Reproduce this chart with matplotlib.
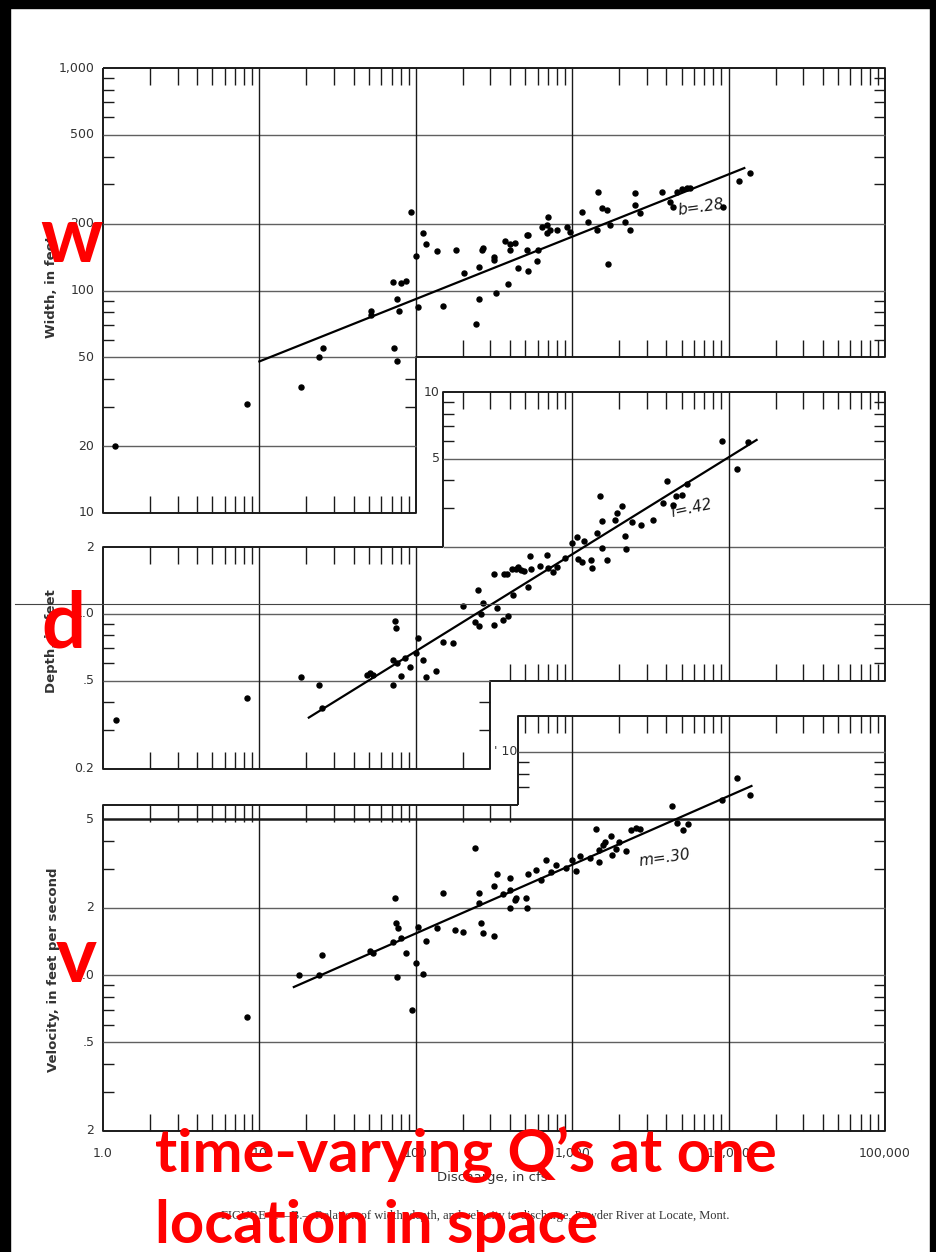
import numpy as np
import matplotlib.pyplot as plt
from matplotlib.patches import Rectangle
from matplotlib.lines import Line2D

# discharge (cfs) vs width (ft)
q_width = [1.2, 8.3, 18.4, 24, 25.5, 52, 52, 72, 81, 86, 75.6, 78, 73, 75.6, 93, 101, 111, 117,
           104, 136, 149, 180, 203, 242, 253, 253, 264, 267, 315, 315, 325, 371, 390, 401, 401,
           429, 449, 512, 512, 520, 593, 600, 638, 690, 697, 520, 687, 720, 796, 922, 964, 1150,
           1257, 1435, 1455, 1540, 1660, 1740, 1690, 2165, 2330, 2507, 2507, 2700, 3730, 4200,
           4400, 4650, 5000, 5400, 5650, 9160, 11600, 13800]
width = [20, 31, 37, 50, 55, 78, 81, 109, 108, 110, 92, 81, 55, 48, 225, 143, 181, 162,
         84, 150, 85, 152, 120, 71, 128, 92, 152, 155, 141, 137, 97, 167, 107, 162, 152,
         163, 126, 177, 152, 122, 136, 152, 193, 181, 214, 178, 197, 187, 187, 193, 183, 225,
         203, 187, 277, 235, 230, 197, 131, 203, 187, 274, 243, 223, 277, 250,
         237, 277, 285, 290, 290, 237, 312, 337]

# discharge vs depth (ft)
q_depth = [1.21, 8.3, 18.4, 24, 25, 49, 51, 53, 71, 73.5, 75, 72, 75.6, 81, 85, 91.5, 101, 104,
           111, 117, 134, 149, 172, 200, 238, 250, 253, 260, 267, 315, 315, 330, 360, 385, 390,
           416, 435, 495, 520, 366, 410, 450, 470, 535, 545, 620, 687, 697, 750, 800, 896, 1000,
           1075, 1085, 1150, 1190, 1310, 1330, 1435, 1500, 1560, 1560, 1660, 1870, 1920, 2070,
           2180, 2220, 2400, 2740, 3270, 3790, 4020, 4400, 4600, 5000, 5400, 9020, 11250, 13400]
depth = [0.334, 0.419, 0.52, 0.48, 0.378, 0.53, 0.54, 0.53, 0.48, 0.93, 0.865, 0.62, 0.60, 0.527,
         0.634, 0.578, 0.668, 0.78, 0.62, 0.52, 0.555, 0.75, 0.74, 1.09, 0.92, 1.28, 0.88, 1.0,
         1.12, 1.51, 0.89, 1.06, 0.94, 1.51, 0.98, 1.22, 1.59, 1.56, 1.32, 1.51, 1.59, 1.62, 1.57,
         1.82, 1.59, 1.64, 1.84, 1.61, 1.54, 1.63, 1.79, 2.08, 2.22, 1.77, 1.72, 2.13, 1.75, 1.61,
         2.31, 3.39, 2.62, 1.98, 1.75, 2.65, 2.85, 3.06, 2.24, 1.96, 2.6, 2.52, 2.65, 3.15, 3.98,
         3.1, 3.41, 3.44, 3.86, 6.03, 4.51, 5.96]

# discharge vs velocity (ft/s)
q_vel = [8.3, 17.9, 24, 25, 50.8, 53, 73.5, 75, 77, 72, 81, 87, 75.6, 94, 101, 104, 111, 117, 136,
         149, 177, 200, 238, 253, 253, 260, 267, 315, 315, 330, 362, 398, 401, 401, 429, 440, 505,
         512, 520, 585, 629, 677, 729, 785, 908, 993, 1052, 1116, 1294, 1414, 1477, 1566, 1614,
         1762, 1897, 1997, 2198, 2366, 2548, 2720, 1493, 1800, 4330, 4700, 5470, 5100, 9020,
         11400, 13800]
velocity = [0.648, 1.0, 1.0, 1.23, 1.28, 1.25, 2.21, 1.71, 1.62, 1.41, 1.47, 1.25, 0.98, 0.70, 1.13,
            1.64, 1.01, 1.42, 1.62, 2.33, 1.59, 1.56, 3.71, 2.33, 2.1, 1.71, 1.54, 1.50, 2.5, 2.84,
            2.31, 2.72, 2.4, 2.0, 2.17, 2.21, 2.21, 2.0, 2.84, 2.96, 2.67, 3.28, 2.9, 3.11, 3.02,
            3.28, 2.93, 3.42, 3.35, 4.52, 3.64, 3.83, 3.95, 4.2, 3.67, 3.95, 3.6, 4.47, 4.56, 4.52,
            3.21, 3.45, 5.73, 4.8, 4.76, 4.47, 6.1, 7.64, 6.42]

# fitted lines (end points)
fit_q_w, fit_w = [10, 12600], [48, 355]
fit_q_d, fit_d = [20.7, 15100], [0.341, 6.08]
fit_q_v, fit_v = [16.6, 14000], [0.884, 7.04]

x_labels = ['1.0', '10', '100', '1,000', '10,000', '100,000']

W, H = 937, 1252
fig = plt.figure(figsize=(W / 100, H / 100), dpi=100)
fig.patch.set_facecolor('white')

INK = '#1a1a1a'
GRID = '#606060'
LBL = '#333333'
TICKFONT = ['Liberation Sans Narrow', 'DejaVu Sans']


def make_ax(ylo, yhi, py_lo, py_hi):
    ax = fig.add_axes([103 / W, 1 - py_lo / H, 782 / W, (py_lo - py_hi) / H])
    ax.set_xscale('log')
    ax.set_yscale('log')
    ax.set_xlim(1, 1e5)
    ax.set_ylim(ylo, yhi)
    ax.axis('off')
    ax.ppd_y = (py_lo - py_hi) / np.log10(yhi / ylo)
    return ax


def line(ax, xs, ys, lw=1.4, c=INK):
    ax.plot(xs, ys, color=c, lw=lw, clip_on=False, solid_capstyle='butt')


def minor_vals(lo, hi):
    out = []
    for k in range(-2, 6):
        for m in range(2, 10):
            v = m * 10.0 ** k
            if lo * 1.0001 < v < hi * 0.9999:
                out.append(v)
    return out


def xticks(ax, x0, x1, y, up=True, length=17):
    f = 10 ** (length / ax.ppd_y)
    for x in minor_vals(x0, x1):
        line(ax, [x, x], [y, y * f if up else y / f], lw=1.0)


def yticks(ax, vals, x, inward_right=True, length=11):
    f = 10 ** (length / 156.4)
    for v in vals:
        line(ax, [x, x * f if inward_right else x / f], [v, v], lw=1.0)


def ylabels(ax, vals, texts, x):
    for v, t in zip(vals, texts):
        ax.text(x, v, t, ha='right', va='center', fontsize=9, color=LBL, family=TICKFONT,
                clip_on=False)


# ---------------- width panel ----------------
axw = make_ax(10, 1000, 513, 68)
line(axw, [1, 1e5, 1e5, 100, 100, 1, 1], [1000, 1000, 50, 50, 10, 10, 1000])
for y in [500, 200, 100]:
    line(axw, [1, 1e5], [y, y], lw=1.0, c=GRID)
line(axw, [1, 100], [50, 50], lw=1.0, c=GRID)
line(axw, [1, 100], [20, 20], lw=1.0, c=GRID)
line(axw, [10, 10], [10, 1000], lw=1.0)
line(axw, [100, 100], [50, 1000], lw=1.0)
for x in [1000, 10000]:
    line(axw, [x, x], [50, 1000], lw=1.0)
xticks(axw, 1, 1e5, 1000, up=False)
xticks(axw, 1, 100, 10, up=True)
xticks(axw, 100, 1e5, 50, up=True)
yticks(axw, [900, 800, 700, 600, 400, 300, 90, 80, 70, 60, 40, 30], 1, True)
yticks(axw, [900, 800, 700, 600, 400, 300, 90, 80, 70, 60], 1e5, False)
yticks(axw, [40, 30], 100, False)
ylabels(axw, [1000, 500, 200, 100, 50, 20, 10], ['1,000', '500', '200', '100', '50', '20', '10'], 0.88)
axw.scatter(q_width, width, s=13, color='black', zorder=5, clip_on=False)
axw.plot(fit_q_w, fit_w, color='black', lw=1.6)
axw.text(6700, 237, 'b=.28', fontsize=11, style='italic', rotation=8, ha='center', va='center',
         family=['DejaVu Sans'], color=INK)

# ---------------- depth panel ----------------
axd = make_ax(0.2, 10, 769, 392)
line(axd, [150, 150, 1e5, 1e5, 300, 300, 1, 1, 150],
     [2, 10, 10, 0.5, 0.5, 0.2, 0.2, 2, 2])
line(axd, [150, 1e5], [5, 5], lw=1.0, c=GRID)
line(axd, [150, 1e5], [2, 2], lw=1.0, c=GRID)
line(axd, [1, 1e5], [1, 1], lw=1.0, c=GRID)
line(axd, [1, 300], [0.5, 0.5], lw=1.0, c=GRID)
for x in [10, 100]:
    line(axd, [x, x], [0.2, 2], lw=1.0)
for x in [1000, 10000]:
    line(axd, [x, x], [0.5, 10], lw=1.0)
xticks(axd, 150, 1e5, 10, up=False)
xticks(axd, 1, 150, 2, up=False)
xticks(axd, 1, 300, 0.2, up=True)
xticks(axd, 300, 1e5, 0.5, up=True)
yticks(axd, [0.9, 0.8, 0.7, 0.6, 0.4, 0.3], 1, True)
yticks(axd, [9, 8, 7, 6, 4, 3], 150, True)
yticks(axd, [9, 8, 7, 6, 4, 3, 0.9, 0.8, 0.7, 0.6], 1e5, False)
yticks(axd, [0.4, 0.3], 300, False)
ylabels(axd, [2, 1, 0.5, 0.2], ['2', '1.0', '.5', '0.2'], 0.88)
ylabels(axd, [10, 5], ['10', '5'], 142)
axd.scatter(q_depth, depth, s=13, color='black', zorder=5, clip_on=False)
axd.plot(fit_q_d, fit_d, color='black', lw=1.6)
axd.text(5800, 3.0, 'f=.42', fontsize=11, style='italic', rotation=12, ha='center', va='center',
         family=['DejaVu Sans'], color=INK)

# ---------------- velocity panel ----------------
VTOP = 14.5
VLEFT = 5.78
axv = make_ax(0.2, VTOP, 1131, 716)
line(axv, [450, 450, 1e5, 1e5, 1, 1, 450], [VLEFT, VTOP, VTOP, 0.2, 0.2, VLEFT, VLEFT])
line(axv, [450, 1e5], [10, 10], lw=1.0, c=GRID)
line(axv, [1, 1e5], [5, 5], lw=1.8, c=INK)
for y in [2, 1, 0.5]:
    line(axv, [1, 1e5], [y, y], lw=1.0, c=GRID)
for x in [10, 100]:
    line(axv, [x, x], [0.2, VLEFT], lw=1.0)
for x in [1000, 10000]:
    line(axv, [x, x], [0.2, VTOP], lw=1.0)
xticks(axv, 450, 1e5, VTOP, up=False)
xticks(axv, 1, 450, VLEFT, up=False)
xticks(axv, 1, 1e5, 0.2, up=True)
yticks(axv, [4, 3, 0.9, 0.8, 0.7, 0.6, 0.4, 0.3], 1, True)
yticks(axv, [9, 8, 7], 450, True)
yticks(axv, [9, 8, 7, 6, 4, 3, 0.9, 0.8, 0.7, 0.6, 0.4, 0.3], 1e5, False)
ylabels(axv, [5, 2, 1, 0.5, 0.2], ['5', '2', '1.0', '.5', '2'], 0.88)
axv.text(445, 10, "' 10", ha='right', va='center', fontsize=9, color=LBL, family=TICKFONT)
axv.scatter(q_vel, velocity, s=13, color='black', zorder=5, clip_on=False)
axv.plot(fit_q_v, fit_v, color='black', lw=1.6)
axv.text(3900, 3.35, 'm=.30', fontsize=11, style='italic', rotation=8, ha='center', va='center',
         family=['DejaVu Sans'], color=INK)

for i, t in enumerate(x_labels):
    axv.text(10.0 ** i, 0.2 * 10 ** (-16 / axv.ppd_y), t, ha='center', va='top', fontsize=9,
             color=LBL, family=TICKFONT, clip_on=False)

# axis titles
def ftext(px, py, s, **kw):
    fig.text(px / W, 1 - py / H, s, **kw)

ftext(52, 287, 'Width, in feet', rotation=90, ha='center', va='center', fontsize=9.5,
      color=LBL, weight='bold')
ftext(52, 641, 'Depth, in feet', rotation=90, ha='center', va='center', fontsize=9.5,
      color=LBL, weight='bold')
ftext(54, 970, 'Velocity, in feet per second', rotation=90, ha='center', va='center',
      fontsize=9.5, color=LBL, weight='bold')
ftext(492, 1178, 'Discharge, in cfs', ha='center', va='center', fontsize=9.5, color=LBL)
ftext(475, 1216, 'FIGURE 4.\u2014B.\u2014Relation of width, depth, and velocity to discharge, '
      'Powder River at Locate, Mont.', ha='center', va='center', fontsize=9, color=LBL,
      family=['Liberation Serif', 'DejaVu Serif'])

# scan artefact line
fig.add_artist(Line2D([15 / W, 1], [1 - 604 / H] * 2, color='#444444', lw=0.8))

# red annotations
RED = '#ff0000'
red_kw = dict(color=RED, weight='bold', family=['Lato', 'DejaVu Sans'], ha='left', va='baseline')
ftext(40, 262, 'w', fontsize=56, **red_kw)
ftext(41, 647, 'd', fontsize=56, **red_kw)
ftext(56, 982, 'v', fontsize=56, **red_kw)
ftext(155, 1172, 'time-varying Q\u2019s at one', fontsize=43, **red_kw)
ftext(155, 1243, 'location in space', fontsize=43, **red_kw)

# black frame of the slide
for rect in [(0, 0, 10, H), (0, 0, W, 8), (930, 0, 7, H)]:
    x, y, w, h = rect
    fig.add_artist(Rectangle((x / W, 1 - (y + h) / H), w / W, h / H, transform=fig.transFigure,
                             color='black', zorder=10))

fig.savefig('out.png', dpi=100)
